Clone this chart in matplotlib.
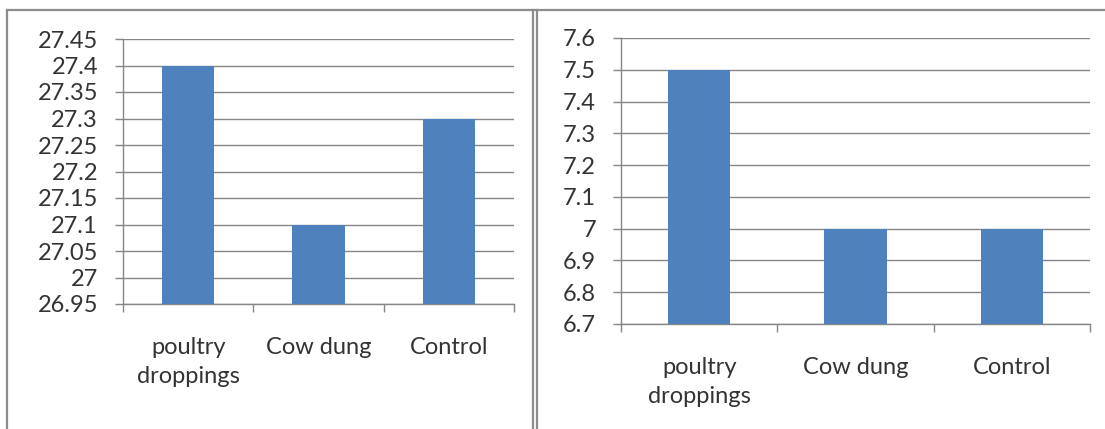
import matplotlib
matplotlib.use("Agg")
import matplotlib.pyplot as plt
from matplotlib.lines import Line2D
import numpy as np

# Data
categories = ["poultry\ndroppings", "Cow dung", "Control"]
left_values = [27.4, 27.1, 27.3]
right_values = [7.5, 7.0, 7.0]
left_ticks = [26.95, 27.0, 27.05, 27.1, 27.15, 27.2, 27.25, 27.3, 27.35, 27.4, 27.45]
left_ticklabels = ["26.95", "27", "27.05", "27.1", "27.15", "27.2", "27.25", "27.3", "27.35", "27.4", "27.45"]
right_ticks = [6.7, 6.8, 6.9, 7.0, 7.1, 7.2, 7.3, 7.4, 7.5, 7.6]
right_ticklabels = ["6.7", "6.8", "6.9", "7", "7.1", "7.2", "7.3", "7.4", "7.5", "7.6"]

BAR = "#4F81BD"
GRID = "#868686"
TEXT = "#333333"
FONT = "Lato"
FS = 17

W, H = 1105, 429
fig = plt.figure(figsize=(W / 100, H / 100), dpi=100)
fig.patch.set_facecolor("white")


def px_rect(x0, y0, x1, y1):
    return [x0 / W, 1 - y1 / H, (x1 - x0) / W, (y1 - y0) / H]


def style_axes(ax, values, ticks, ticklabels, width, pad_x):
    n = len(categories)
    pos = np.arange(n)
    ax.bar(pos, values, width=width, color=BAR, zorder=3)
    ax.set_xlim(-0.5, n - 0.5)
    ax.set_ylim(ticks[0], ticks[-1])
    ax.set_yticks(ticks)
    ax.set_yticklabels(ticklabels, fontfamily=FONT, fontsize=FS, color=TEXT)
    ax.yaxis.grid(True, color=GRID, linewidth=1.0, zorder=0)
    ax.set_axisbelow(True)
    # category boundaries carry the tick marks, centres carry the labels
    ax.set_xticks(np.arange(n + 1) - 0.5)
    ax.set_xticklabels([])
    ax.set_xticks(pos, minor=True)
    ax.set_xticklabels(categories, minor=True, fontfamily=FONT, fontsize=FS,
                       color=TEXT, linespacing=1.45)
    ax.tick_params(axis="x", which="minor", length=0, pad=pad_x)
    ax.tick_params(axis="x", which="major", length=6, width=1, color=GRID, direction="out")
    ax.tick_params(axis="y", length=6, width=1, color=GRID, direction="out", pad=12)
    for s in ("top", "right"):
        ax.spines[s].set_visible(False)
    for s in ("left", "bottom"):
        ax.spines[s].set_color(GRID)
        ax.spines[s].set_linewidth(1.0)


ax1 = fig.add_axes(px_rect(123, 39, 514, 304))
style_axes(ax1, left_values, left_ticks, left_ticklabels, 0.4, 24)

ax2 = fig.add_axes(px_rect(621, 38, 1090, 324))
style_axes(ax2, right_values, right_ticks, right_ticklabels, 0.4, 24)

# Panel frames
frame_kw = dict(color="#8c8c8c", linewidth=1.6, transform=fig.transFigure)
fig.add_artist(Line2D([7 / W, 1], [1 - 9.5 / H, 1 - 9.5 / H], **frame_kw))
fig.add_artist(Line2D([7 / W, 7 / W], [1 - 9.5 / H, 0], **frame_kw))
fig.add_artist(Line2D([533 / W, 533 / W], [1 - 9.5 / H, 0], **frame_kw))
fig.add_artist(Line2D([537 / W, 537 / W], [1 - 9.5 / H, 0], **frame_kw))

fig.savefig("out.png", dpi=100, facecolor="white")
